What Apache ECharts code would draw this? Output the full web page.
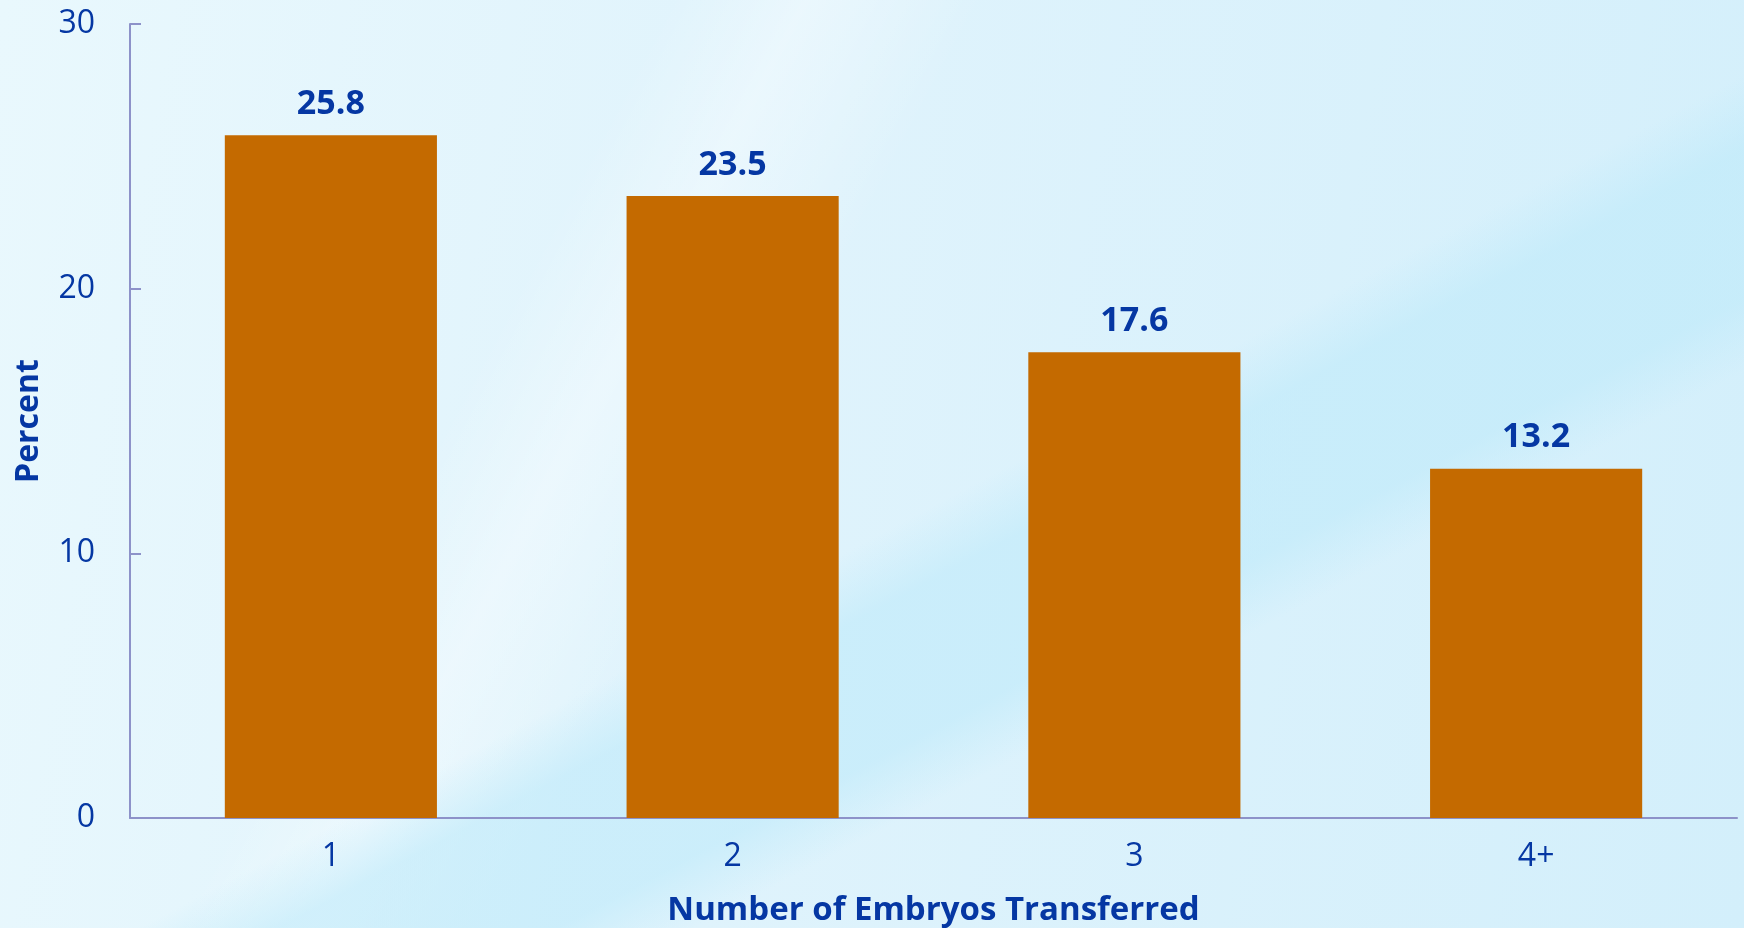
<!DOCTYPE html>
<html>
<head>
<meta charset="utf-8">
<title>Number of Embryos Transferred</title>
<script src="https://cdn.jsdelivr.net/npm/echarts@6/dist/echarts.min.js"></script>
<style>
	html, body {
		margin: 0;
		padding: 0;
	}
	body {
		width: 1744px;
		height: 928px;
		overflow: hidden;
		background:
			linear-gradient(152deg, rgba(255,255,255,0) 54%, rgba(190,234,250,0.6) 58%, rgba(190,234,250,0.6) 66%, rgba(255,255,255,0) 70%),
			linear-gradient(118deg, rgba(255,255,255,0) 30%, rgba(255,255,255,0.35) 36%, rgba(255,255,255,0) 44%),
			linear-gradient(100deg, #e9f8fd 0%, #dff3fc 45%, #d3effb 100%);
	}
	#chart {
		width: 1744px;
		height: 928px;
	}
</style>
</head>
<body>
<div id="chart"></div>
<script>
	const categories = ['1', '2', '3', '4+'];
	const percentValues = [25.8, 23.5, 17.6, 13.2];
	const yTicks = [0, 10, 20, 30];

	const textBlue = '#0537a3';
	const axisColor = '#8d92c9';
	const barColor = '#c46a00';
	const fontName = '"Open Sans", "Noto Sans", sans-serif';

	const setupChart = function( el ) {
		let option = {
			animation: false,
			backgroundColor: 'transparent',
			textStyle: { fontFamily: fontName },
			grid: {
				left: 130,
				right: 7,
				top: 24,
				bottom: 110,
				outerBoundsMode: 'none' // keep the plot box fixed, names may sit near the edge
			},
			xAxis: {
				type: 'category',
				data: categories,
				name: 'Number of Embryos Transferred',
				nameLocation: 'middle',
				nameGap: 76,
				nameTextStyle: { color: textBlue, fontSize: 33, fontWeight: 'bold', fontFamily: fontName },
				axisLine: { show: true, lineStyle: { color: axisColor, width: 2 } },
				axisTick: { show: false },
				axisLabel: { color: textBlue, fontSize: 32, margin: 23, fontFamily: fontName }
			},
			yAxis: {
				type: 'value',
				min: yTicks[0],
				max: yTicks[yTicks.length - 1],
				interval: 10,
				name: 'Percent',
				nameLocation: 'middle',
				nameGap: 85,
				nameTextStyle: { color: textBlue, fontSize: 32, fontWeight: 'bold', fontFamily: fontName },
				axisLine: { show: true, lineStyle: { color: axisColor, width: 2 } },
				axisTick: { show: true, inside: true, length: 11, lineStyle: { color: axisColor, width: 2 } },
				axisLabel: { color: textBlue, fontSize: 32, margin: 35, fontFamily: fontName },
				splitLine: { show: false }
			},
			series: [{
				type: 'bar',
				data: percentValues,
				barWidth: '52.8%',
				itemStyle: { color: barColor },
				label: {
					show: true,
					position: 'top',
					distance: 14,
					color: textBlue,
					fontSize: 34,
					fontWeight: 'bold',
					fontFamily: fontName,
					formatter: p => p.value.toFixed(1)
				}
			}]
		};

		let myChart = echarts.init( el );
		myChart.setOption(option);
	}

	document.addEventListener("DOMContentLoaded", function() {
		setupChart(document.getElementById('chart'));
	});
</script>
</body>
</html>
